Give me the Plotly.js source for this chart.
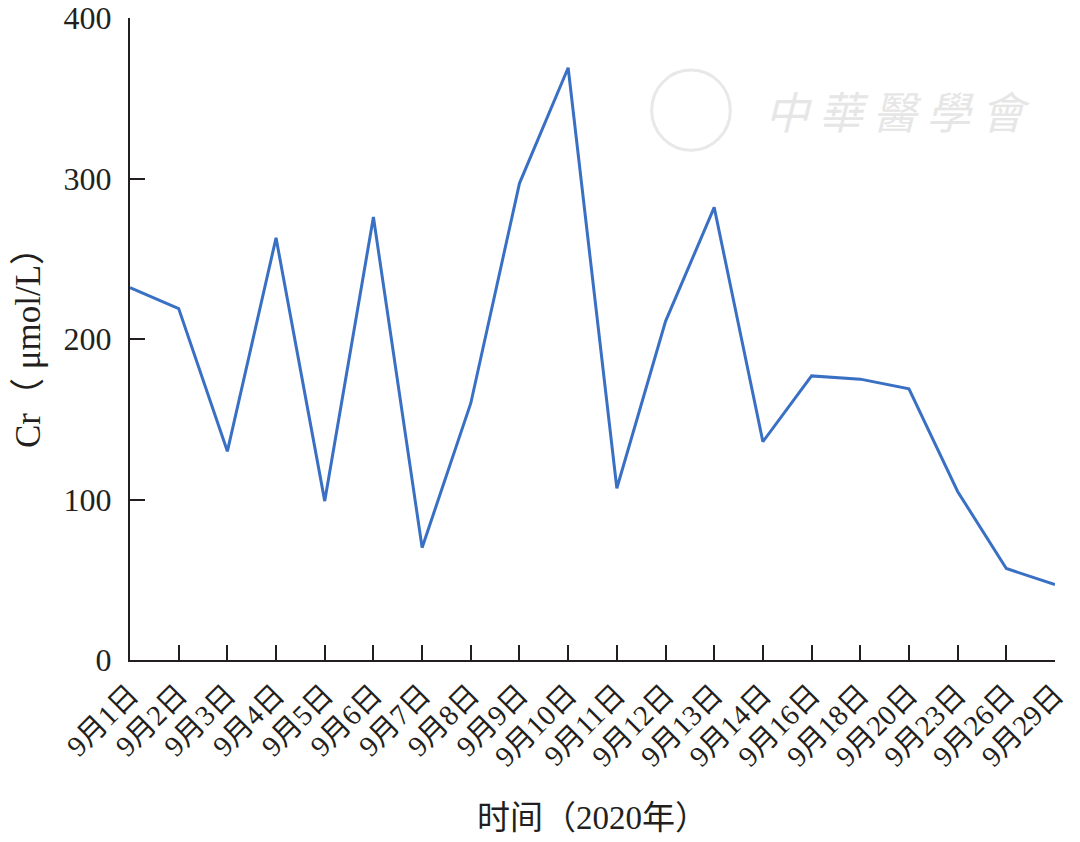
<!DOCTYPE html>
<html>
<head>
<meta charset="utf-8">
<script src="https://cdn.plot.ly/plotly-3.0.1.min.js"></script>
<style>html,body{margin:0;padding:0;background:#fff}#chart{width:1080px;height:842px}</style>
</head>
<body>
<div id="chart"></div>
<script>
const dates = ["9月1日","9月2日","9月3日","9月4日","9月5日","9月6日","9月7日","9月8日","9月9日","9月10日","9月11日","9月12日","9月13日","9月14日","9月16日","9月18日","9月20日","9月23日","9月26日","9月29日"];
const crValues = [232,219,130,263,99,276,70,160,297,369,107,211,282,136,177,175,169,105,57,47];
const yTicks = [0,100,200,300,400];

const FONT = "Liberation Serif, 'Times New Roman', 'Noto Sans CJK SC', serif";
const AXC = "#231f20";

Plotly.newPlot("chart", [{
  x: dates, y: crValues, type: "scatter", mode: "lines",
  line: {color: "#3a70c4", width: 3}
}], {
  width: 1080, height: 842,
  margin: {l: 130, r: 25, t: 18, b: 182},
  paper_bgcolor: "#fff", plot_bgcolor: "#fff",
  showlegend: false,
  font: {family: FONT, color: "#231f20"},
  xaxis: {
    type: "category", range: [0, dates.length - 1],
    showline: true, linecolor: AXC, linewidth: 2,
    ticks: "inside", ticklen: 15, tickwidth: 2, tickcolor: AXC,
    showgrid: false, zeroline: false, tickangle: -45,
    ticklabelstandoff: 4,
    tickfont: {family: FONT, size: 29, color: "#231f20"},
    title: {text: "时间（2020年）", font: {family: FONT, size: 33, color: "#231f20"}, standoff: 34}
  },
  yaxis: {
    range: [0, 400], tickvals: yTicks, ticktext: yTicks.map(String),
    showline: true, linecolor: AXC, linewidth: 2,
    ticks: "inside", ticklen: 15, tickwidth: 2, tickcolor: AXC,
    showgrid: false, zeroline: false,
    ticklabelstandoff: 10,
    tickfont: {family: FONT, size: 32, color: "#231f20"},
    title: {text: "Cr（ μmol/L）", font: {family: FONT, size: 35, color: "#231f20"}, standoff: 12}
  },
  shapes: [{
    type: "circle", xref: "paper", yref: "paper",
    x0: 0.564, x1: 0.649, y0: 0.794, y1: 0.919,
    line: {color: "#e8e8e8", width: 3}
  }],
  annotations: [{
    xref: "paper", yref: "paper", x: 0.83, y: 0.857,
    xanchor: "center", yanchor: "middle",
    text: "<i>中 華 醫 學 會</i>", showarrow: false,
    font: {family: "'Noto Sans CJK TC', sans-serif", size: 44, color: "#e6e6e6"}
  }]
}, {displayModeBar: false});
</script>
</body>
</html>
